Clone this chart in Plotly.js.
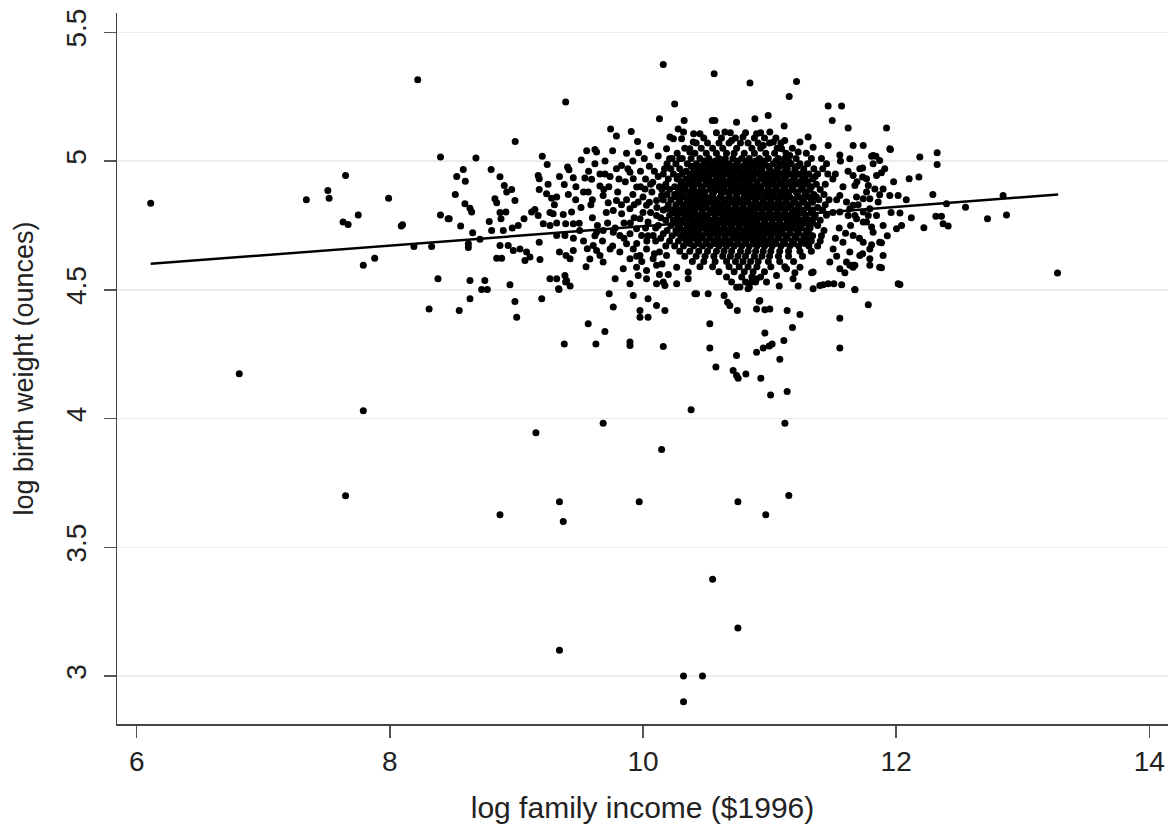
<!DOCTYPE html>
<html>
<head>
<meta charset="utf-8">
<script src="https://cdn.plot.ly/plotly-3.0.1.min.js"></script>
<style>html,body{margin:0;padding:0;background:#fff;}#chart{width:1172px;height:833px;}</style>
</head>
<body>
<div id="chart"></div>
<script>
// ---- data: [log family income, log birth weight] ----
const lowIncomePts = [
[6.11,4.836],[6.81,4.174],[7.34,4.85],[7.51,4.886],[7.52,4.856],[7.65,4.944],[7.63,4.763],[7.67,4.754],
[7.75,4.791],[7.99,4.856],[8.09,4.748],[8.10,4.753],[8.19,4.668],[8.33,4.668],[7.79,4.595],[7.88,4.623],
[8.38,4.543],[8.31,4.426],[8.40,5.016],[8.40,4.791],[8.46,4.776],[7.79,4.03],[7.65,3.70],[8.22,5.316]
];
const leftCloudPts = [
[8.528,4.94],[8.58,4.967],[8.596,4.922],[8.68,5.012],[8.80,4.967],[8.87,4.939],[8.904,4.905],[8.99,5.076],
[8.517,4.87],[8.593,4.834],[8.633,4.817],[8.646,4.802],[8.469,4.776],[8.559,4.748],[8.654,4.722],[8.712,4.696],
[8.62,4.679],[8.62,4.664],[8.83,4.854],[8.844,4.838],[8.923,4.88],[8.962,4.89],[8.988,4.847],[8.87,4.80],
[8.917,4.802],[8.785,4.765],[8.804,4.73],[8.878,4.776],[8.896,4.73],[8.967,4.74],[9.014,4.75],[9.06,4.776],
[9.12,4.802],[9.146,4.812],[9.18,4.931],[9.172,4.944],[9.238,4.873],[9.18,4.89],[9.278,4.856],[9.318,4.86],
[9.378,4.909],[9.404,4.977],[9.415,4.966],[9.449,4.935],[9.468,4.85],[9.172,4.789],[9.265,4.80],[9.29,4.795],
[9.37,4.793],[9.436,4.802],[9.212,4.757],[9.265,4.75],[9.318,4.76],[9.389,4.757],[9.449,4.757],[9.496,4.759],
[9.541,4.934],[9.594,4.929],[9.567,4.88],[9.588,4.83],[9.204,5.019],[9.243,4.987],[9.512,5.004],[9.555,5.04],
[9.389,5.229],[8.633,4.536],[8.75,4.536],[8.725,4.501],[8.77,4.501],[8.633,4.465],[8.548,4.42],[8.949,4.52],
[8.988,4.455],[9.002,4.394],[9.20,4.465],[8.87,4.672],[8.844,4.623],[8.883,4.623],[8.935,4.672],[8.975,4.653],
[9.028,4.659],[9.08,4.647],[9.107,4.627],[9.067,4.614],[9.18,4.685],[9.186,4.618],[9.265,4.543],[9.318,4.543],
[9.383,4.556],[9.389,4.53],[9.333,4.504],[9.424,4.515],[9.34,4.647],[9.392,4.633],[9.449,4.653],[9.424,4.621],
[9.383,4.711],[9.318,4.711],[9.396,4.536],[9.336,4.501],[9.567,4.368],[9.378,4.29],[9.154,3.945],[8.87,3.627],
[9.34,3.677],[9.37,3.60],[9.34,3.10],[9.51,4.82],[9.53,4.88],[9.55,4.59],[9.58,4.62],[9.56,4.66],[9.53,4.69],
[9.25,4.91],[9.30,4.83],[9.34,4.94],[9.41,4.87],[9.45,4.70],[9.47,4.90],[9.50,4.73],[9.57,4.96]
];
const midCloudPts = [
[9.744,5.125],[9.79,5.097],[9.907,5.115],[9.957,5.076],[9.965,5.032],[10.06,5.06],[9.62,5.045],[9.633,5.035],
[9.66,4.903],[9.69,4.89],[9.74,4.94],[9.79,4.97],[9.83,4.983],[9.897,4.957],[9.923,4.931],[9.95,4.899],
[10.016,4.892],[10.077,4.918],[9.685,4.866],[9.725,4.838],[9.79,4.847],[9.765,4.808],[9.831,4.795],[9.897,4.815],
[9.962,4.841],[10.028,4.828],[10.107,4.847],[10.147,4.866],[9.976,4.776],[10.04,4.763],[10.12,4.75],[10.107,4.789],
[10.186,4.815],[9.633,4.724],[9.685,4.73],[9.765,4.724],[9.817,4.711],[9.897,4.718],[9.949,4.737],[9.989,4.711],
[10.08,4.711],[10.16,4.718],[9.607,4.672],[9.633,4.653],[9.66,4.633],[9.685,4.608],[9.74,4.659],[9.817,4.647],
[9.87,4.679],[9.923,4.659],[9.897,4.621],[9.976,4.633],[10.028,4.659],[10.08,4.621],[10.13,4.647],[10.186,4.633],
[10.107,4.595],[10.028,4.575],[9.949,4.588],[9.844,4.582],[9.78,4.543],[9.897,4.524],[9.962,4.556],[10.028,4.543],
[10.107,4.524],[10.16,4.53],[9.733,4.485],[9.765,4.433],[9.923,4.478],[9.976,4.42],[10.04,4.465],[10.107,4.439],
[10.173,4.42],[9.976,4.394],[10.04,4.394],[9.699,4.338],[9.897,4.297],[9.628,4.29],[9.897,4.284],[10.16,4.28],
[9.685,3.982],[9.97,3.677],[10.147,3.88],[10.16,5.375],[10.13,5.164],
[9.70,4.95],[9.86,4.92],[9.98,4.96],[10.05,4.98],[10.12,4.94],[10.17,4.90],[9.92,4.87],[10.00,4.86],[10.07,4.88],
[9.80,4.88],[9.87,4.85],[10.06,4.80],[10.14,4.78],[9.93,4.78],[9.85,4.76],[10.02,4.74],[10.10,4.69],[10.03,4.69],
[9.95,4.68],[10.18,4.67],[10.15,4.60],[10.20,4.56],[9.72,4.76],[9.60,4.78],[9.62,4.71],[9.62,4.99],[9.70,5.00],
[9.87,5.03],[10.01,5.01],[10.12,5.02],[9.76,5.04],
[9.60,4.85],[9.64,4.75],[9.66,4.95],[9.68,4.69],[9.71,4.80],[9.73,4.90],[9.76,4.67],[9.78,4.74],[9.81,4.93],
[9.83,4.83],[9.85,4.70],[9.88,4.97],[9.90,4.76],[9.93,4.83],[9.95,4.63],[9.98,4.90],[10.00,4.80],[10.02,4.93],
[10.04,4.71],[10.05,4.84],[10.09,4.96],[10.10,4.74],[10.11,4.82],[10.13,4.90],[10.14,4.70],[10.16,4.85],
[10.09,4.64],[10.13,4.56],[9.99,4.61],[10.17,4.97],[10.06,4.91],[9.92,5.00]
];
// dense core: one row per log birth weight level, listing incomes
const coreWeights = [5.11,5.09,5.07,5.05,5.03,5.01,4.99,4.97,4.95,4.93,4.91,4.89,4.87,4.85,4.83,4.81,4.79,4.77,4.75,4.73,4.71,4.69,4.67,4.65,4.63,4.61,4.59,4.57,4.55,4.53,4.51];
const coreIncomes = [
[10.58,10.69,10.81,10.93],
[10.48,10.62,10.73,10.88,10.96,11.05],
[10.42,10.51,10.60,10.68,10.77,10.83,10.91,11.00,11.09],
[10.33,10.46,10.55,10.63,10.74,10.86,10.93,11.06,11.18],
[10.27,10.41,10.50,10.58,10.66,10.72,10.80,10.88,10.97,11.04,11.13,11.29],
[10.23,10.31,10.38,10.45,10.52,10.60,10.65,10.71,10.78,10.84,10.92,10.99,11.07,11.12,11.21,11.33,11.41],
[10.19,10.26,10.35,10.42,10.48,10.54,10.61,10.68,10.74,10.81,10.86,10.91,10.96,11.03,11.10,11.17,11.24,11.30,11.45],
[10.22,10.29,10.40,10.46,10.51,10.57,10.64,10.70,10.76,10.83,10.88,10.94,11.00,11.06,11.14,11.20,11.27,11.35,11.42],
[10.16,10.24,10.31,10.37,10.43,10.49,10.55,10.60,10.66,10.72,10.79,10.85,10.90,10.97,11.03,11.09,11.16,11.23,11.31,11.38,11.46],
[10.20,10.27,10.34,10.41,10.47,10.52,10.58,10.63,10.69,10.75,10.81,10.87,10.93,10.99,11.05,11.12,11.19,11.26,11.34,11.50],
[10.18,10.30,10.36,10.44,10.50,10.56,10.61,10.67,10.73,10.78,10.84,10.90,10.96,11.02,11.08,11.15,11.21,11.29,11.37,11.44],
[10.15,10.21,10.28,10.33,10.39,10.46,10.53,10.59,10.64,10.70,10.76,10.82,10.88,10.93,10.99,11.05,11.11,11.18,11.25,11.32,11.40],
[10.19,10.25,10.31,10.37,10.42,10.48,10.55,10.62,10.68,10.74,10.80,10.85,10.91,10.97,11.03,11.09,11.14,11.22,11.28,11.35,11.43],
[10.22,10.29,10.35,10.41,10.47,10.52,10.58,10.65,10.71,10.77,10.83,10.89,10.95,11.01,11.07,11.13,11.19,11.26,11.33,11.39,11.47],
[10.20,10.26,10.32,10.39,10.45,10.50,10.56,10.61,10.67,10.73,10.79,10.86,10.92,10.98,11.04,11.10,11.17,11.23,11.30,11.44],
[10.16,10.23,10.29,10.34,10.40,10.47,10.53,10.59,10.64,10.70,10.76,10.82,10.88,10.94,11.00,11.06,11.12,11.20,11.27,11.34,11.42],
[10.21,10.27,10.33,10.38,10.44,10.50,10.57,10.63,10.68,10.74,10.80,10.85,10.91,10.97,11.03,11.09,11.15,11.22,11.29,11.36,11.45],
[10.18,10.24,10.30,10.36,10.42,10.48,10.54,10.60,10.66,10.72,10.78,10.84,10.90,10.96,11.02,11.08,11.14,11.19,11.25,11.32,11.40],
[10.22,10.28,10.35,10.40,10.46,10.52,10.58,10.64,10.70,10.76,10.82,10.87,10.93,10.99,11.05,11.11,11.17,11.24,11.31,11.38],
[10.19,10.26,10.32,10.38,10.44,10.50,10.55,10.61,10.67,10.73,10.79,10.85,10.91,10.97,11.03,11.09,11.16,11.22,11.29,11.43],
[10.23,10.30,10.36,10.41,10.47,10.53,10.59,10.65,10.71,10.77,10.83,10.89,10.95,11.01,11.07,11.13,11.20,11.27,11.34,11.41],
[10.21,10.28,10.34,10.43,10.50,10.56,10.62,10.68,10.75,10.81,10.87,10.92,10.98,11.04,11.11,11.18,11.25,11.33,11.40],
[10.25,10.32,10.40,10.47,10.53,10.60,10.66,10.72,10.78,10.84,10.90,10.96,11.02,11.09,11.16,11.23,11.31,11.38],
[10.29,10.37,10.44,10.51,10.58,10.64,10.70,10.77,10.83,10.89,10.95,11.01,11.08,11.15,11.24,11.33],
[10.33,10.42,10.49,10.56,10.63,10.69,10.75,10.81,10.88,10.94,11.00,11.07,11.15,11.26],
[10.39,10.48,10.57,10.66,10.73,10.79,10.85,10.91,10.99,11.08,11.19],
[10.45,10.55,10.68,10.76,10.83,10.90,11.01,11.12],
[10.60,10.72,10.80,10.87,10.96],
[10.66,10.78,10.86,10.93],
[10.70,10.81,10.89],
[10.74,10.84]
];
// densest centre of the cloud, between the rows above
const centreWeights = [5.00,4.98,4.96,4.94,4.92,4.90,4.88,4.86,4.84,4.82,4.80,4.78,4.76,4.74,4.72,4.70,4.68];
const centreIncomes = [
[10.49,10.57,10.64,10.75,10.82,10.89,10.95,11.05,11.15],
[10.38,10.44,10.52,10.59,10.66,10.71,10.79,10.85,10.93,10.99,11.08,11.13,11.22],
[10.34,10.41,10.46,10.53,10.62,10.69,10.74,10.81,10.88,10.93,11.01,11.06,11.12,11.20,11.27],
[10.28,10.39,10.45,10.51,10.58,10.63,10.70,10.77,10.83,10.87,10.95,11.00,11.07,11.13,11.20,11.28,11.36],
[10.31,10.38,10.43,10.50,10.55,10.61,10.66,10.72,10.79,10.84,10.90,10.97,11.03,11.10,11.17,11.24,11.30],
[10.25,10.33,10.40,10.47,10.53,10.58,10.64,10.70,10.75,10.81,10.87,10.93,10.99,11.05,11.12,11.18,11.26,11.33],
[10.30,10.36,10.43,10.49,10.56,10.62,10.67,10.73,10.79,10.85,10.90,10.96,11.02,11.08,11.15,11.21,11.29],
[10.26,10.32,10.39,10.45,10.50,10.55,10.61,10.68,10.74,10.80,10.86,10.92,10.98,11.04,11.10,11.16,11.23,11.31,11.37],
[10.29,10.36,10.42,10.48,10.53,10.59,10.64,10.70,10.76,10.82,10.89,10.95,11.01,11.07,11.13,11.20,11.27,11.34],
[10.26,10.32,10.37,10.43,10.50,10.56,10.62,10.67,10.73,10.79,10.85,10.91,10.97,11.03,11.09,11.15,11.23,11.30,11.38],
[10.24,10.30,10.36,10.41,10.47,10.54,10.60,10.65,10.71,10.77,10.83,10.88,10.94,11.00,11.06,11.12,11.18,11.25,11.33],
[10.27,10.33,10.39,10.45,10.51,10.57,10.63,10.69,10.75,10.81,10.87,10.93,10.99,11.05,11.11,11.17,11.22,11.28,11.35],
[10.25,10.31,10.38,10.43,10.49,10.55,10.61,10.67,10.73,10.79,10.85,10.90,10.96,11.02,11.08,11.14,11.20,11.27,11.34],
[10.29,10.35,10.41,10.47,10.53,10.58,10.64,10.70,10.76,10.82,10.88,10.94,11.00,11.06,11.12,11.19,11.25,11.32],
[10.27,10.33,10.39,10.44,10.50,10.56,10.62,10.68,10.74,10.80,10.86,10.92,10.98,11.04,11.10,11.16,11.23,11.31],
[10.33,10.39,10.46,10.53,10.59,10.65,10.72,10.78,10.84,10.90,10.95,11.01,11.07,11.14,11.21,11.29],
[10.37,10.44,10.50,10.57,10.63,10.69,10.75,10.81,10.87,10.93,10.99,11.05,11.12,11.19,11.28]
];
const upperPts = [
[10.25,5.222],[10.325,5.158],[10.562,5.339],[10.845,5.303],[11.213,5.309],[11.155,5.251],[10.547,5.158],
[10.568,5.158],[10.739,5.151],[10.884,5.164],[10.989,5.177],[11.115,5.136],[11.463,5.214],[11.569,5.214],
[11.495,5.158],[11.621,5.128],[11.924,5.128],[11.95,5.048],[10.278,5.125],[10.213,5.093],[10.305,5.087],
[10.397,5.074],[10.45,5.106],[10.37,5.048],[10.32,5.113],[10.40,5.106],[10.24,5.087],[10.186,5.048],[10.21,5.009],
[10.29,5.009],[10.37,5.035],[10.647,5.113],[10.70,5.08],[10.79,5.093],[10.897,5.106],[11.002,5.113],[11.03,5.074],
[10.95,5.06],[11.095,5.048],[11.12,5.08],[11.24,5.074],[11.305,5.093],[11.344,5.054],[11.226,5.035],[11.16,5.022],
[11.463,5.06],[11.555,5.024],[11.66,5.06],[11.74,5.06],[11.818,5.022],[11.87,5.002],[11.91,4.97]
];
const lowerPts = [
[10.528,4.368],[10.528,4.274],[10.576,4.2],[10.739,4.245],[10.712,4.187],[10.739,4.167],[10.752,4.157],[10.813,4.173],
[10.931,4.157],[10.897,4.258],[10.95,4.274],[10.997,4.282],[11.02,4.29],[10.963,4.332],[11.113,4.303],[11.081,4.23],
[11.008,4.092],[11.139,4.105],[11.181,4.354],[11.24,4.404],[11.139,4.42],[10.918,4.456],[10.963,4.423],[11.002,4.426],
[10.745,4.42],[10.668,4.452],[10.686,4.439],[10.641,4.478],[10.41,4.485],[10.515,4.485],[10.38,4.034],[11.121,3.982],
[11.152,3.701],[10.55,3.376],[10.75,3.187],[10.75,3.677],[10.97,3.627],[10.32,3.0],[10.47,3.0],[10.32,2.9],
[11.555,4.39],[11.555,4.274],[11.78,4.442],[11.674,4.501],[12.016,4.524],[11.423,4.52],[11.463,4.524],[11.508,4.524],
[11.332,4.566],[11.2,4.566],[11.076,4.515],[11.226,4.515],[11.595,4.566],[11.634,4.595],[11.66,4.595],[11.792,4.595],
[11.884,4.586],[10.766,4.511],[10.83,4.504],[10.857,4.53],[10.923,4.459],[10.897,4.426],[10.266,4.524],[10.357,4.543],
[10.423,4.485],[11.344,4.504],[11.397,4.517],[11.186,4.543],[11.344,4.569],[11.24,4.588],[11.134,4.582],[11.055,4.556],
[10.976,4.53],[10.897,4.543],[10.173,4.517],[10.266,4.588],[10.357,4.569]
];
const rightCloudPts = [
[11.634,5.009],[11.713,4.97],[11.66,4.944],[11.766,4.931],[11.845,4.944],[11.897,4.892],[11.95,4.866],[12.016,4.866],
[11.555,4.866],[11.608,4.841],[11.66,4.828],[11.74,4.854],[11.792,4.815],[11.845,4.789],[11.897,4.75],[12.003,4.737],
[11.818,4.724],[11.74,4.763],[11.687,4.776],[11.621,4.789],[11.555,4.802],[11.58,4.685],[11.66,4.711],[11.74,4.685],
[11.792,4.659],[11.87,4.685],[11.897,4.633],[11.792,4.621],[11.713,4.633],[11.634,4.647],[11.608,4.608],[11.674,4.595],
[11.87,4.588],[11.502,4.659],[11.476,4.608],[11.555,4.582],[11.955,5.045],[12.187,5.016],[12.324,5.032],[12.324,4.987],
[11.806,5.019],[11.84,5.019],[11.818,4.99],[11.735,4.973],[11.884,4.955],[11.735,4.938],[12.103,4.931],[12.18,4.938],
[11.674,4.905],[11.78,4.905],[11.832,4.892],[11.766,4.88],[11.87,4.869],[11.687,4.86],[11.792,4.854],[11.858,4.841],
[12.29,4.87],[12.398,4.834],[12.548,4.821],[12.845,4.866],[12.722,4.776],[12.872,4.791],[13.275,4.565],[12.03,4.798],
[12.314,4.786],[12.358,4.786],[12.371,4.757],[12.411,4.748],[12.219,4.741],[12.043,4.75],[11.806,4.744],[11.766,4.763],
[11.74,4.802],[11.78,4.789],[11.674,4.789],[11.634,4.815],[11.806,4.675],[11.884,4.683],[11.735,4.64],[11.66,4.588],
[12.03,4.521],[11.674,4.5],
[11.52,4.95],[11.55,4.74],[11.58,4.90],[11.60,4.72],[11.62,4.96],[11.53,4.63],[11.57,4.52],[11.64,4.75],[11.70,4.83],
[11.71,4.70],[11.69,4.92],[11.53,4.85],[11.50,4.80],[11.52,4.70],[11.56,5.00],[11.96,4.80],[11.93,4.71],[11.98,4.92],
[12.08,4.85],[12.12,4.78]
];
// fitted regression line, read at the smallest and largest income
const fitIncome = [6.11, 13.28];
const fitWeight = [4.601, 4.870];
const xTickVals = [6, 8, 10, 12, 14];
const yTickVals = [3, 3.5, 4, 4.5, 5, 5.5];
const yTickText = ['3', '3.5', '4', '4.5', '5', '5.5'];
const xTitle = 'log family income ($1996)';
const yTitle = 'log birth weight (ounces)';

// ---- build ----
const pts = [].concat(lowIncomePts, leftCloudPts, midCloudPts, upperPts, lowerPts, rightCloudPts);
coreWeights.forEach((w, i) => coreIncomes[i].forEach(x => pts.push([x, w])));
centreWeights.forEach((w, i) => centreIncomes[i].forEach(x => pts.push([x, w])));
const xs = pts.map(p => p[0]);
const ys = pts.map(p => p[1]);

const font = 'Liberation Sans, Arial, Helvetica, sans-serif';
const traces = [
  {x: xs, y: ys, type: 'scatter', mode: 'markers',
   marker: {size: 7, color: '#000'}, hoverinfo: 'skip', showlegend: false},
  {x: fitIncome, y: fitWeight, type: 'scatter', mode: 'lines',
   line: {color: '#000', width: 2.5}, showlegend: false}
];
const layout = {
  width: 1172, height: 833,
  margin: {l: 117, r: 4, t: 13, b: 109, pad: 0},
  paper_bgcolor: '#fff', plot_bgcolor: '#fff',
  showlegend: false,
  xaxis: {
    range: [5.844, 14.148], tickmode: 'array', tickvals: xTickVals,
    ticks: 'outside', ticklen: 12, tickwidth: 1.5, tickcolor: '#555',
    showline: true, linecolor: '#444', linewidth: 1.5, mirror: false,
    showgrid: false, zeroline: false, automargin: false,
    tickfont: {family: font, size: 28, color: '#222'},
    title: {text: xTitle, font: {family: font, size: 30, color: '#222'}, standoff: 21}
  },
  yaxis: {
    range: [2.814, 5.575], tickmode: 'array', tickvals: yTickVals, ticktext: yTickText,
    tickangle: -90, ticklabelstandoff: 6,
    ticks: 'outside', ticklen: 12, tickwidth: 1.5, tickcolor: '#555',
    showline: true, linecolor: '#444', linewidth: 1.5,
    showgrid: true, gridcolor: '#ececec', gridwidth: 1.5,
    zeroline: false, automargin: false,
    tickfont: {family: font, size: 28, color: '#222'},
    title: {text: yTitle, font: {family: font, size: 27, color: '#222'}, standoff: 20}
  }
};
Plotly.newPlot('chart', traces, layout, {displayModeBar: false, staticPlot: true});
</script>
</body>
</html>
